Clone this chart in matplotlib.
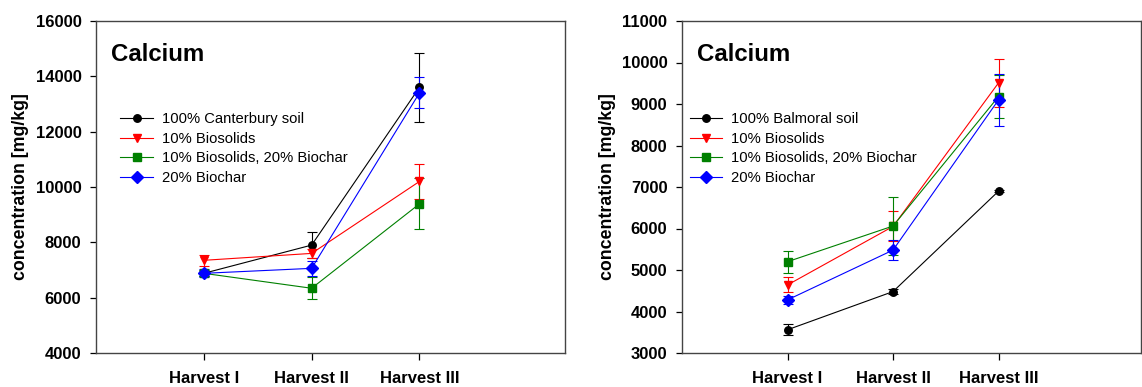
import matplotlib.pyplot as plt
import numpy as np
from matplotlib.lines import Line2D

plt.rcParams['font.family'] = ['Liberation Sans', 'DejaVu Sans']

harvests = ["Harvest I", "Harvest II", "Harvest III"]
labels_canterbury = ["100% Canterbury soil", "10% Biosolids",
                     "10% Biosolids, 20% Biochar", "20% Biochar"]
labels_balmoral = ["100% Balmoral soil", "10% Biosolids",
                   "10% Biosolids, 20% Biochar", "20% Biochar"]

# Canterbury soil: means and standard errors, mg/kg
canterbury_mean = [
    [6880, 7900, 13600],
    [7350, 7600, 10200],
    [6880, 6340, 9390],
    [6880, 7060, 13400],
]
canterbury_err = [
    [110, 480, 1240],
    [190, 160, 640],
    [100, 390, 920],
    [150, 280, 560],
]

# Balmoral soil
balmoral_mean = [
    [3560, 4480, 6900],
    [4640, 6050, 9510],
    [5200, 6060, 9180],
    [4280, 5480, 9100],
]
balmoral_err = [
    [130, 60, 30],
    [180, 360, 580],
    [265, 700, 510],
    [90, 240, 620],
]

colors = ["black", "red", "green", "blue"]
markers = ["o", "v", "s", "D"]
msizes = [5.4, 6.4, 5.4, 5.8]

fig = plt.figure(figsize=(11.42, 3.87), dpi=100)
ax1 = fig.add_axes([96 / 1142, 34 / 387, 469 / 1142, 332 / 387])
ax2 = fig.add_axes([682 / 1142, 34 / 387, 459 / 1142, 332 / 387])

x = np.arange(1, len(harvests) + 1)


def draw(ax, means, errs, labels, ylim, yticks, legend_x):
    handles = []
    for mean, err, c, mk, ms, lab in zip(means, errs, colors, markers, msizes, labels):
        ax.errorbar(x, mean, yerr=err, color=c, marker=mk, markersize=ms,
                    linewidth=0.8, elinewidth=0.8, capsize=3.6, capthick=0.8)
        handles.append(Line2D([], [], color=c, marker=mk, markersize=ms,
                              linewidth=0.8, label=lab))
    ax.set_xlim(0, 4.35)
    ax.set_ylim(*ylim)
    ax.set_yticks(yticks)
    ax.set_xticks(x)
    ax.set_xticklabels(harvests)
    for lbl in ax.get_xticklabels() + ax.get_yticklabels():
        lbl.set_fontweight("bold")
        lbl.set_fontsize(12)
    ax.tick_params(axis="y", direction="out", length=4, width=0.9, pad=6.5)
    ax.tick_params(axis="x", direction="out", length=5, width=0.9, pad=8)
    for s in ax.spines.values():
        s.set_color("#444444")
        s.set_linewidth(1.0)
    ax.set_ylabel("concentration [mg/kg]", fontsize=12.8, fontweight="bold")
    ax.yaxis.set_label_coords(-0.143, 0.5)
    ax.text(0.032, 0.9, "Calcium", transform=ax.transAxes, fontsize=17.3,
            fontweight="bold", va="center", ha="left")
    ax.legend(handles=handles, loc="upper left", bbox_to_anchor=(legend_x, 0.725),
              frameon=False, fontsize=10.6, handlelength=2.2, handletextpad=0.6,
              labelspacing=0.38, borderaxespad=0.0, borderpad=0.0)


draw(ax1, canterbury_mean, canterbury_err, labels_canterbury,
     (4000, 16000), np.arange(4000, 16001, 2000), 0.052)
draw(ax2, balmoral_mean, balmoral_err, labels_balmoral,
     (3000, 11000), np.arange(3000, 11001, 1000), 0.017)

fig.savefig("out.png", dpi=100)
